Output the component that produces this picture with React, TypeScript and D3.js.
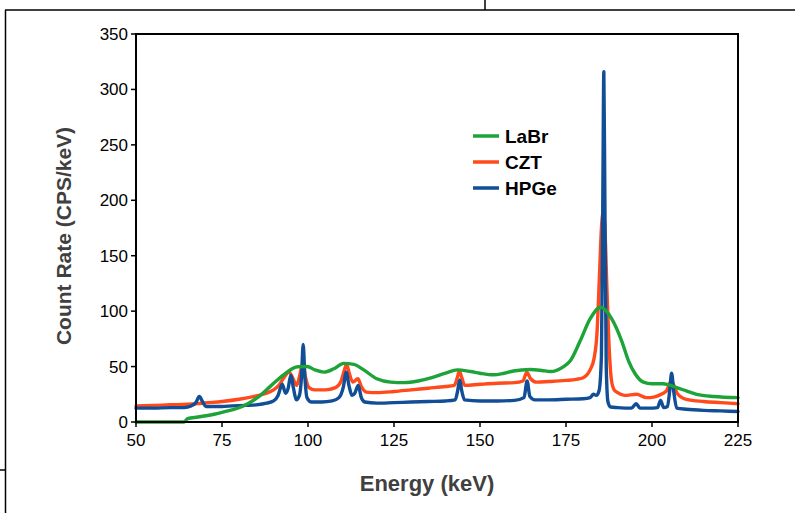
import React from "react";
import * as d3 from "d3";

const xTicks = [50, 75, 100, 125, 150, 175, 200, 225];
const yTicks = [0, 50, 100, 150, 200, 250, 300, 350];

const hpgeEnergy = [50, 55, 60, 64, 66, 67.4, 68.4, 69.4, 70.3, 72, 75, 78, 82, 85, 88, 90, 91.3, 92.5, 93.5, 94.2, 95, 95.8, 96.6, 97.5, 98.1, 98.6, 99.1, 99.7, 101, 104, 107, 109, 110.3, 111.1, 111.9, 112.8, 113.6, 114.6, 115.5, 116.5, 120, 125, 130, 135, 140, 142.8, 143.5, 144.1, 144.7, 145.5, 150, 155, 160, 162.8, 163.7, 164.5, 166, 170, 175, 180, 182, 183, 183.8, 184.6, 185.3, 185.7, 186.0, 186.3, 186.7, 187.2, 188, 190, 194, 195.4, 196.5, 199, 201.6, 202.5, 203.4, 204.5, 205.2, 205.7, 206.3, 207.2, 210, 215, 220, 225];
const hpgeRate = [12.5, 12.5, 13, 13, 14.5, 17.5, 23, 18, 14, 14, 14, 14.5, 15, 15.5, 17, 19, 24, 34, 26, 30, 42, 30, 20, 24, 40, 70, 40, 22, 18, 18, 19, 22, 32, 45, 33, 24, 26, 33, 22, 18, 17, 17.5, 18, 18.5, 19, 20, 28, 38, 28, 20, 19, 19, 19.5, 22, 37, 23, 20, 20, 20.5, 21, 22, 25, 24, 28, 60, 200, 316, 200, 50, 18, 13.5, 13, 12.5, 16.5, 12.5, 12.5, 13, 19.5, 13, 14, 30, 44, 28, 12.5, 11.5, 10.5, 10, 9.5];

const cztEnergy = [50, 55, 60, 65, 68, 70, 75, 80, 85, 88, 90, 91.5, 93, 94.5, 95.8, 96.7, 97.6, 98.5, 99.3, 100.3, 102, 105, 108, 109.5, 110.5, 111.2, 112, 113, 114.5, 115.5, 117, 120, 125, 130, 135, 140, 142.5, 143.4, 144.0, 144.7, 145.6, 150, 155, 160, 162.5, 163.6, 164.7, 166.5, 170, 175, 178, 180, 182, 183.2, 184.0, 184.7, 185.3, 185.8, 186.3, 186.9, 187.5, 188.2, 189, 190, 192, 195.5, 198.4, 200.5, 202.3, 204.2, 205.6, 206.5, 207.3, 210, 215, 220, 225];
const cztRate = [14.5, 15, 15.5, 16, 16.6, 17.2, 18.5, 20.5, 23.5, 26, 29, 33, 40, 45, 38, 33, 42, 53, 40, 31, 29, 29, 31, 36, 46, 52, 44, 36, 39, 32, 27, 26.5, 27.5, 29, 30.5, 32, 33, 40, 46, 40, 33, 34, 35, 35.5, 37, 45, 39, 36, 36.5, 37.5, 38.5, 40, 47, 58, 80, 130, 175, 189, 175, 120, 70, 38, 29, 26.5, 24, 25, 22, 22.5, 24.5, 28, 37, 32, 26, 20.5, 18.5, 17.5, 16.5];

const labrEnergy = [50, 64, 65, 68, 72.7, 76, 79.5, 82.5, 85.3, 89.2, 93.1, 97, 99.8, 102, 104.6, 107.5, 110.4, 113.3, 116.2, 120, 124, 128, 132, 136, 140, 143.4, 147.2, 150, 153.9, 157, 159.7, 164.6, 168, 170.4, 174.3, 176.2, 179.1, 182, 185.1, 188.3, 191.2, 193.2, 195, 197.5, 200, 203.2, 207.2, 210, 213, 218, 225];
const labrRate = [0, 0, 3, 4.5, 7, 9.5, 12.4, 16.5, 22, 32.6, 43, 49.9, 50, 47, 45, 48, 52.9, 52, 47, 39, 36, 35.5, 37, 40, 44, 47, 45.6, 44, 42.6, 44, 46, 47.4, 46.5, 45.5, 50, 55, 73, 93, 103.5, 93, 73, 55, 44, 36, 34.5, 34.5, 31, 28, 25, 23, 22];

const seriesNames = ["LaBr", "CZT", "HPGe"];
const seriesColors = ["#1ea338", "#ff4a1c", "#124e96"];

const W = 795;
const H = 513;
const left = 136;
const right = 738;
const top = 34;
const bottom = 422;

export default function App() {
  const x = d3.scaleLinear().domain([50, 225]).range([left, right]);
  const y = d3.scaleLinear().domain([0, 350]).range([bottom, top]);
  const line = d3
    .line<[number, number]>()
    .x((d) => x(d[0]))
    .y((d) => y(d[1]))
    .curve(d3.curveMonotoneX);

  const zip = (e: number[], v: number[]) => e.map((d, i) => [d, v[i]] as [number, number]);
  const series = [
    { name: seriesNames[1], color: seriesColors[1], data: zip(cztEnergy, cztRate) },
    { name: seriesNames[2], color: seriesColors[2], data: zip(hpgeEnergy, hpgeRate) },
    { name: seriesNames[0], color: seriesColors[0], data: zip(labrEnergy, labrRate) },
  ];

  const font = "'Liberation Sans', Arial, sans-serif";

  return (
    <svg
      width={W}
      height={H}
      style={{ position: "absolute", left: 0, top: 0, background: "#fff" }}
      fontFamily={font}
    >
      <rect x={0} y={0} width={W} height={H} fill="#fff" />
      {/* outer frame fragments */}
      <line x1={5} y1={10} x2={W} y2={10} stroke="#000" strokeWidth={1.5} />
      <line x1={485} y1={0} x2={485} y2={10} stroke="#000" strokeWidth={1.5} />
      <line x1={5.5} y1={10} x2={5.5} y2={H} stroke="#000" strokeWidth={1.5} />
      <line x1={0} y1={470} x2={5} y2={470} stroke="#000" strokeWidth={1.5} />

      {/* data */}
      <g fill="none" strokeLinejoin="round" strokeLinecap="round">
        {series.map((s) => (
          <path key={s.name} d={line(s.data) || ""} stroke={s.color} strokeWidth={3.4} />
        ))}
      </g>

      {/* plot frame */}
      <rect x={left} y={top} width={right - left} height={bottom - top} fill="none" stroke="#000" strokeWidth={2} />

      {/* y ticks */}
      {yTicks.map((t) => (
        <g key={"y" + t}>
          <line x1={left - 5} x2={left} y1={y(t)} y2={y(t)} stroke="#000" strokeWidth={1.5} />
          <text x={left - 8} y={y(t)} dy="0.35em" textAnchor="end" fontSize={17} fill="#000">
            {t}
          </text>
        </g>
      ))}
      {/* x ticks */}
      {xTicks.map((t) => (
        <g key={"x" + t}>
          <line x1={x(t)} x2={x(t)} y1={bottom} y2={bottom + 5} stroke="#000" strokeWidth={1.5} />
          <text x={x(t)} y={bottom + 24} textAnchor="middle" fontSize={17} fill="#000">
            {t}
          </text>
        </g>
      ))}

      {/* axis titles */}
      <text
        transform={`translate(64,236) rotate(-90)`}
        textAnchor="middle"
        dy="0.35em"
        fontSize={21}
        fontWeight="bold"
        fill="#404040"
      >
        Count Rate (CPS/keV)
      </text>
      <text x={427} y={483} dy="0.35em" textAnchor="middle" fontSize={22} fontWeight="bold" fill="#404040">
        Energy (keV)
      </text>

      {/* legend */}
      {seriesNames.map((n, i) => (
        <g key={n}>
          <line x1={473} x2={499} y1={136 + i * 26} y2={136 + i * 26} stroke={seriesColors[i]} strokeWidth={3.5} />
          <text x={505} y={136 + i * 26} dy="0.35em" fontSize={19} fontWeight="bold" fill="#000">
            {n}
          </text>
        </g>
      ))}
    </svg>
  );
}
